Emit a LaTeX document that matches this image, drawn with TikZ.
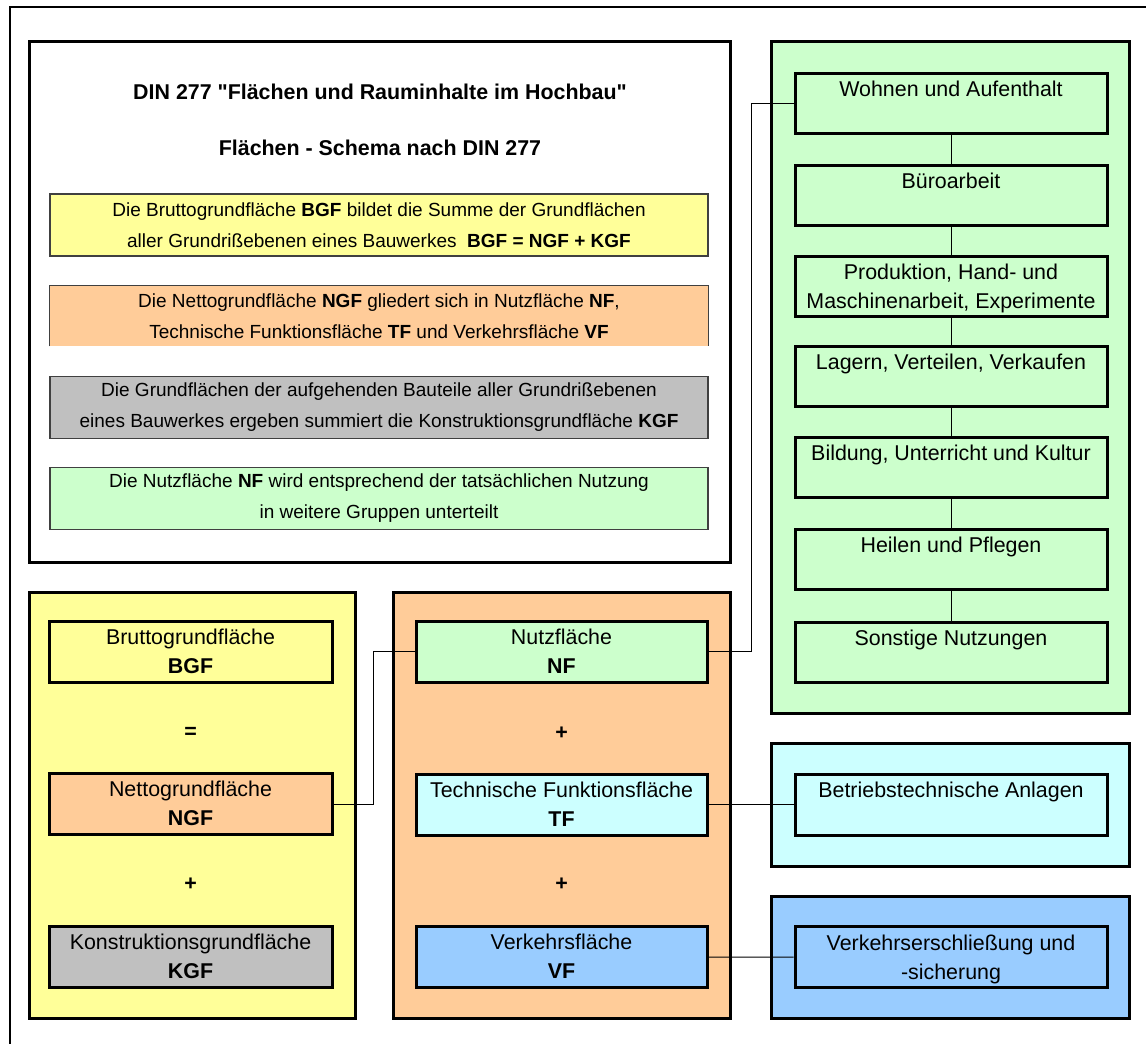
\documentclass[tikz,border=0pt]{standalone}
\usepackage{fontspec}
\setmainfont{Liberation Sans}
\newfontfamily\titelschrift{Liberation Sans}
\usepackage{tikz}
\definecolor{gelb}{HTML}{FFFF99}
\definecolor{orange}{HTML}{FFCC99}
\definecolor{grau}{HTML}{C0C0C0}
\definecolor{gruen}{HTML}{CCFFCC}
\definecolor{tuerkis}{HTML}{CCFFFF}
\definecolor{blau}{HTML}{99CCFF}
\tikzset{
    rahmen/.style={draw=black, line width=1.5pt},
    kasten/.style={draw=black, line width=1.5pt, minimum height=30.5pt, inner sep=0pt},
    kastentext/.style={anchor=north, align=center, inner sep=0pt, yshift=-4.5pt},
    band/.style={minimum width=329pt, minimum height=31pt, inner sep=0pt, align=center,
        font=\fontsize{9.5}{15.5}\selectfont},
    bandlinie/.style={draw=black!75, line width=0.6pt},
    verbindung/.style={line width=0.5pt},
}

\begin{document}
\begin{tikzpicture}[x=0.5pt,y=-0.5pt,font=\fontsize{10.7}{14.5}\selectfont]
            \useasboundingbox (0,0) rectangle (1146,1044);
            \draw[line width=1pt] (10,1044) -- (10,7) -- (1146,7);

            \draw[rahmen,fill=white] (29,41) rectangle (730,562);
            \node[font=\fontsize{10.7}{14.5}\titelschrift\bfseries] (titel) at (380,92) {DIN 277 "Flächen und Rauminhalte im Hochbau"};
            \node[font=\fontsize{10.7}{14.5}\bfseries] (schema) at (380,148) {Flächen - Schema nach DIN 277};
            \node[band,bandlinie,fill=gelb] (bandbgf) at (379,225) {Die Bruttogrundfläche \textbf{BGF} bildet die Summe der Grundflächen\\aller Grundrißebenen eines Bauwerkes~~\textbf{BGF = NGF + KGF}};
            \node[band,fill=orange,minimum height=30pt] (bandngf) at (379,316) {Die Nettogrundfläche \textbf{NGF} gliedert sich in Nutzfläche \textbf{NF},\\Technische Funktionsfläche \textbf{TF} und Verkehrsfläche \textbf{VF}};
            \draw[bandlinie] (bandngf.south west) -- (bandngf.north west) -- (bandngf.north east) -- (bandngf.south east);
            \node[band,bandlinie,fill=grau] (bandkgf) at (379,407.5) {Die Grundflächen der aufgehenden Bauteile aller Grundrißebenen\\eines Bauwerkes ergeben summiert die Konstruktionsgrundfläche \textbf{KGF}};
            \node[band,bandlinie,fill=gruen] (bandnf) at (379,498.5) {Die Nutzfläche \textbf{NF} wird entsprechend der tatsächlichen Nutzung\\in weitere Gruppen unterteilt};

            \draw[rahmen,fill=gelb] (29,592) rectangle (355,1018);
            \node[kasten,fill=gelb,minimum width=141.5pt,label={[kastentext]north:{Bruttogrundfläche\\\textbf{BGF}}}] (bgf) at (190.5,651.5) {};
            \node (gleich) at (190.5,733) {\textbf{=}};
            \node[kasten,fill=orange,minimum width=141.5pt,label={[kastentext]north:{Nettogrundfläche\\\textbf{NGF}}}] (ngf) at (190.5,804) {};
            \node (plus1) at (190.5,884) {\textbf{+}};
            \node[kasten,fill=grau,minimum width=141.5pt,label={[kastentext]north:{Konstruktionsgrundfläche\\\textbf{KGF}}}] (kgf) at (190.5,957) {};

            \draw[rahmen,fill=orange] (393,592) rectangle (730,1018);
            \node[kasten,fill=gruen,minimum width=145.5pt,label={[kastentext]north:{Nutzfläche\\\textbf{NF}}}] (nf) at (561.5,651.5) {};
            \node (plus2) at (561.5,733) {\textbf{+}};
            \node[kasten,fill=tuerkis,minimum width=145.5pt,label={[kastentext]north:{Technische Funktionsfläche\\\textbf{TF}}}] (tf) at (561.5,804.5) {};
            \node (plus3) at (561.5,884) {\textbf{+}};
            \node[kasten,fill=blau,minimum width=145.5pt,label={[kastentext]north:{Verkehrsfläche\\\textbf{VF}}}] (vf) at (561.5,957) {};

            \draw[rahmen,fill=gruen] (771,41) rectangle (1129,713);
            \foreach \name/\y/\text in {wohnen/103.3/{Wohnen und Aufenthalt},
                    buero/195/{Büroarbeit},
                    produktion/286.3/{Produktion, Hand- und\\Maschinenarbeit, Experimente},
                    lagern/376.5/{Lagern, Verteilen, Verkaufen},
                    bildung/467.5/{Bildung, Unterricht und Kultur},
                    heilen/559.5/{Heilen und Pflegen},
                    sonstige/652/{Sonstige Nutzungen}} {
                \node[kasten,fill=gruen,minimum width=156pt,minimum height=30pt,label={[kastentext]north:{\text}}] (\name) at (951,\y) {};
            }
            \foreach \a/\b in {wohnen/buero,buero/produktion,produktion/lagern,lagern/bildung,bildung/heilen,heilen/sonstige} {
                \draw[verbindung] (\a.south) -- (\b.north);
            }

            \draw[rahmen,fill=tuerkis] (771,743) rectangle (1129,866);
            \node[kasten,fill=tuerkis,minimum width=156pt,label={[kastentext]north:{Betriebstechnische Anlagen}}] (betrieb) at (951,804.5) {};

            \draw[rahmen,fill=blau] (771,896) rectangle (1129,1018);
            \node[kasten,fill=blau,minimum width=156pt,label={[kastentext]north:{Verkehrserschließung und\\-sicherung}}] (erschliessung) at (951,957.2) {};

            \coordinate (knickngf) at (373,804);
            \coordinate (knicknf) at (751,651.5);
            \draw[verbindung] (ngf.east) -- (knickngf) |- (nf.west);
            \draw[verbindung] (nf.east) -- (knicknf) |- (wohnen.west);
            \draw[verbindung] (tf.east) -- (betrieb.west);
            \draw[verbindung] (vf.east) -- (erschliessung.west);
        \end{tikzpicture}
\end{document}
